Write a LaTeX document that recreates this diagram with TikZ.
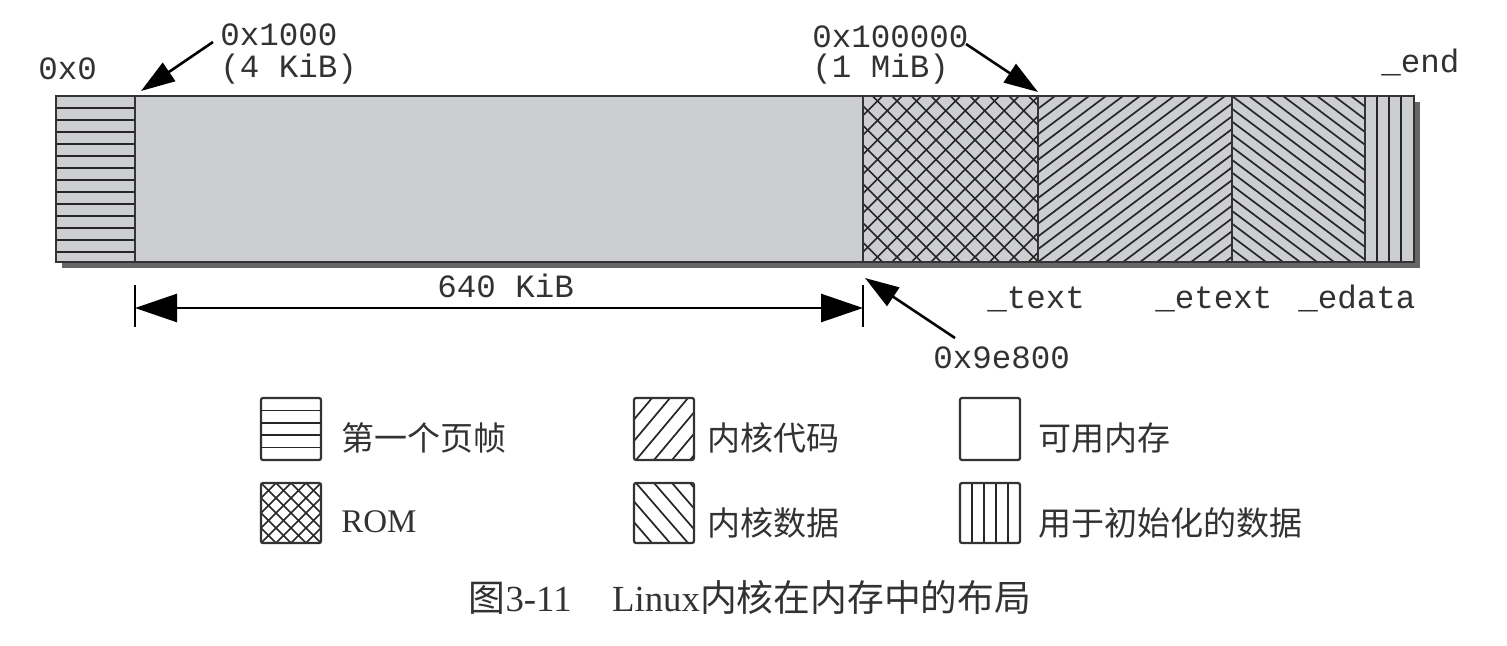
\documentclass[tikz,border=0pt]{standalone}
\usepackage{fontspec}
\setmainfont{Liberation Serif}
\setmonofont{Liberation Mono}
\newfontfamily\cjk{Noto Sans CJK SC}
\usetikzlibrary{arrows.meta}

\definecolor{memgray}{RGB}{204,206,209}
\definecolor{inkgray}{RGB}{50,50,50}

\begin{document}
\begin{tikzpicture}[x=0.5pt, y=-0.5pt,
  every node/.style={inner sep=0pt, text=inkgray},
  addr/.style={font=\fontsize{16.25}{18}\selectfont\ttfamily, anchor=base west},
  legtext/.style={font=\fontsize{16.5}{19}\selectfont\cjk, anchor=west},
  hatch/.style={line width=0.85pt, black!85},
  legbox/.style={line width=1.1pt, black!80, rounded corners=1pt},
  ptr/.style={line width=1.3pt, -{Triangle[length=17pt, width=11pt]}},
  dim/.style={line width=1.3pt, {Triangle[length=21pt, width=14pt]}-{Triangle[length=21pt, width=14pt]}}]
\useasboundingbox (0,0) rectangle (1507,646);

% Bar parameters
\def\bartop{96}
\def\barbot{262}

% Shadow and background of the bar
\fill[black!60] (62,102) rectangle (1420,268);
\fill[memgray] (56,\bartop) rectangle (1414,\barbot);

% First page frame
\foreach \y in {108,120,...,252}
  \draw[hatch] (56,\y) -- (135,\y);

% ROM
\begin{scope}
  \clip (863,\bartop) rectangle (1038,\barbot);
  \foreach \i in {697,716.5,...,1040} {
    \draw[hatch] (\i,\barbot) -- ++(166,-166);
    \draw[hatch] (\i,\bartop) -- ++(166,166);
  }
\end{scope}

% Kernel code
\begin{scope}
  \clip (1038,\bartop) rectangle (1232,\barbot);
  \foreach \i in {817,834,...,1240}
    \draw[hatch] (\i,\barbot) -- ++(221,-166);
\end{scope}

% Kernel data
\begin{scope}
  \clip (1232,\bartop) rectangle (1365,\barbot);
  \foreach \i in {1011,1028,...,1370}
    \draw[hatch] (\i,\bartop) -- ++(221,166);
\end{scope}

% Initialized data
\foreach \x in {1377,1389,1401}
  \draw[hatch] (\x,\bartop) -- (\x,\barbot);

% Outline and dividers
\draw[line width=1pt, black!80] (56,\bartop) rectangle (1414,\barbot);
\foreach \x in {135,863,1038,1232,1365}
  \draw[line width=0.9pt, black!80] (\x,\bartop) -- (\x,\barbot);

% Addresses above the bar
\node[addr] (a0) at (38,80) {0x0};
\node[addr] (a1000) at (220,46) {0x1000};
\node[addr] (kib4) at (220,78) {(4 KiB)};
\node[addr] (a100000) at (812,48) {0x100000};
\node[addr] (mib1) at (812,78) {(1 MiB)};
\node[addr] (aend) at (1381,73) {\_end};

% Pointers
\coordinate (p1s) at (213,42);
\coordinate (p1e) at (141,91);
\draw[ptr] (p1s) -- (p1e);
\coordinate (p2s) at (966,44);
\coordinate (p2e) at (1038,92);
\draw[ptr] (p2s) -- (p2e);
\coordinate (p3s) at (955,338);
\coordinate (p3e) at (865,278);
\draw[ptr] (p3s) -- (p3e);

% 640 KiB span
\coordinate (d0) at (135,308);
\coordinate (d1) at (863,308);
\draw[dim] (d0) -- (d1);
\draw[line width=1.3pt] (135,285) -- (135,327);
\draw[line width=1.3pt] (863,285) -- (863,327);
\node[addr] (kib640) at (437,298) {640 KiB};

% Labels below the bar
\node[addr] (atext) at (987,308) {\_text};
\node[addr] (aetext) at (1155,308) {\_etext};
\node[addr] (aedata) at (1298,308) {\_edata};
\node[addr] (a9e800) at (933,368) {0x9e800};

% Legend boxes
\draw[legbox] (261,398) rectangle (321,460);
\foreach \y in {410.4,422.8,...,448}
  \draw[hatch] (261,\y) -- (321,\y);

\begin{scope}
  \clip (261,483) rectangle (321,543);
  \foreach \i in {201,216,...,325} {
    \draw[hatch] (\i,543) -- ++(60,-60);
    \draw[hatch] (\i,483) -- ++(60,60);
  }
\end{scope}
\draw[legbox] (261,483) rectangle (321,543);

\begin{scope}
  \clip (634,398) rectangle (694,460);
  \foreach \i in {582,600,...,700}
    \draw[hatch] (\i,460) -- ++(52,-62);
\end{scope}
\draw[legbox] (634,398) rectangle (694,460);

\begin{scope}
  \clip (634,483) rectangle (694,543);
  \foreach \i in {582,600,...,700}
    \draw[hatch] (\i,483) -- ++(52,60);
\end{scope}
\draw[legbox] (634,483) rectangle (694,543);

\draw[legbox] (960,398) rectangle (1020,460);

\foreach \x in {972,984,996,1008}
  \draw[hatch] (\x,483) -- (\x,543);
\draw[legbox] (960,483) rectangle (1020,543);

% Legend texts
\node[legtext] (lframe) at (341,438) {第一个页帧};
\node[legtext, font=\fontsize{16.5}{19}\selectfont\rmfamily] (lrom) at (341,522) {ROM};
\node[legtext] (lcode) at (707,438) {内核代码};
\node[legtext] (ldata) at (707,523) {内核数据};
\node[legtext] (lfree) at (1038,438) {可用内存};
\node[legtext] (linit) at (1038,523) {用于初始化的数据};

% Caption
\node[font=\fontsize{18.4}{22}\selectfont\rmfamily] (cap) at (750,597)
  {{\cjk 图}3-11\hspace{1.1em}Linux{\cjk 内核在内存中的布局}};
\end{tikzpicture}
\end{document}
